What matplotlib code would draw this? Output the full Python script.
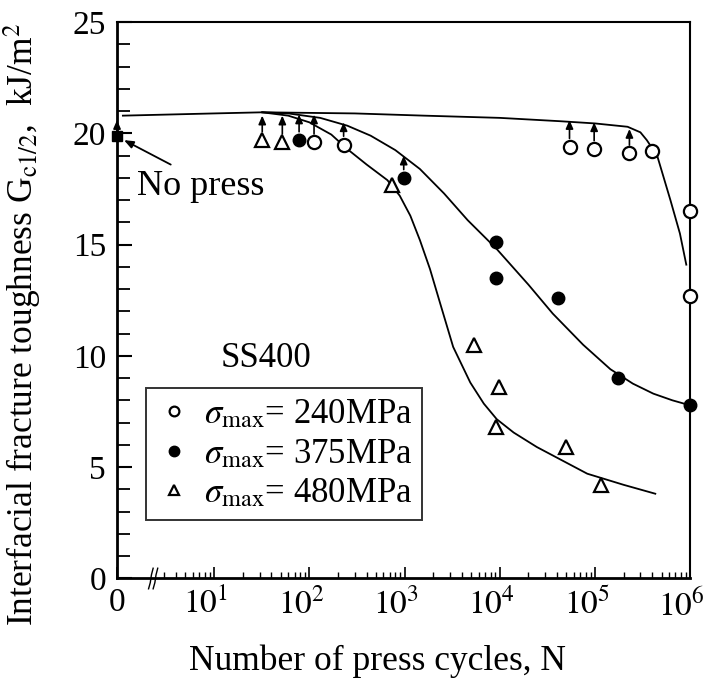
import numpy as np
import matplotlib
matplotlib.use("Agg")
import matplotlib.pyplot as plt
from matplotlib.lines import Line2D
import matplotlib.transforms as mtransforms

plt.rcParams['font.family'] = ['Liberation Serif', 'DejaVu Serif']
plt.rcParams['mathtext.fontset'] = 'stix'

# position of the "0" on the broken log axis
N_ZERO = 0.955

# sigma_max = 240 MPa (open circles)
n_240 = [112, 229, 5.4e4, 9.8e4, 2.3e5, 4.0e5, 1e6, 1e6]
g_240 = [19.6, 19.5, 19.4, 19.3, 19.1, 19.2, 16.5, 12.7]
# sigma_max = 375 MPa (filled circles)
n_375 = [78, 980, 9100, 9100, 4.1e4, 1.74e5, 1e6]
g_375 = [19.7, 18.0, 15.1, 13.5, 12.6, 9.0, 7.8]
# sigma_max = 480 MPa (open triangles)
n_480 = [32, 52, 740, 5400, 9800, 9100, 5.0e4, 1.17e5]
g_480 = [19.7, 19.6, 17.7, 10.5, 8.6, 6.8, 5.9, 4.2]

# no press
g_nopress = 19.9
tip_nopress = 20.6

# arrows (run-outs): x, start value, tip value
arr_n = [32, 52, 78, 112, 229, 980, 5.4e4, 9.8e4, 2.3e5]
arr_g = [19.7, 19.6, 19.7, 19.6, 19.5, 18.0, 19.4, 19.3, 19.1]
arr_tip = [20.8, 20.8, 20.85, 20.85, 20.5, 19.0, 20.6, 20.5, 20.2]

# fitted curves
cn_240 = [1.1, 10, 32, 300, 1600, 1e4, 4.3e4, 1e5, 2.2e5, 3.0e5, 3.5e5, 4.5e5, 6.2e5, 7.8e5, 9.1e5]
cg_240 = [20.8, 20.9, 20.95, 20.9, 20.8, 20.7, 20.55, 20.45, 20.3, 20.05, 19.7, 19.0, 17.0, 15.5, 14.1]
cn_375 = [32, 60, 130, 250, 440, 800, 1450, 2600, 4600, 9300, 2.0e4, 3.6e4, 7.5e4, 1.45e5, 2.5e5, 4.1e5, 6.5e5, 9.5e5]
cg_375 = [20.95, 20.9, 20.7, 20.35, 19.9, 19.25, 18.4, 17.3, 16.1, 14.8, 13.2, 11.9, 10.5, 9.4, 8.75, 8.3, 8.0, 7.8]
cn_480 = [32, 60, 100, 170, 250, 400, 660, 890, 1150, 1450, 1850, 2350, 3240, 4900, 6800, 9300, 1.4e4,
          2.45e4, 8.3e4, 2.0e5, 4.3e5]
cg_480 = [20.95, 20.8, 20.5, 19.95, 19.3, 18.6, 17.9, 17.2, 16.3, 15.2, 13.9, 12.4, 10.4, 8.8, 7.85, 7.15, 6.55,
          5.9, 4.7, 4.2, 3.8]

xtick_pos = [N_ZERO, 1e1, 1e2, 1e3, 1e4, 1e5, 1e6]
xtick_lab = ['0', '$10^{1}$', '$10^{2}$', '$10^{3}$', '$10^{4}$', '$10^{5}$', '$10^{6}$']

# "No press" label and pointer
nopress_text = (1.55, 17.6)
nopress_tail = (3.5, 18.6)
nopress_head = (1.13, 19.7)

fig = plt.figure(figsize=(7.05, 6.95), dpi=100)
ax = fig.add_axes([0.166, 0.168, 0.813, 0.8])
ax.set_xscale('log')
ax.set_xlim(N_ZERO, 1e6)
ax.set_ylim(0, 25)

lw = 1.3
ax.plot(cn_240, cg_240, color='k', lw=lw)
ax.plot(cn_375, cg_375, color='k', lw=lw)
ax.plot(cn_480, cg_480, color='k', lw=lw)

for n, g, t in zip(arr_n, arr_g, arr_tip):
    ax.annotate('', xy=(n, t), xytext=(n, g),
                arrowprops=dict(arrowstyle='-|>,head_length=0.5,head_width=0.22',
                                color='k', lw=1.2, shrinkA=6, shrinkB=0))
ax.annotate('', xy=(N_ZERO, tip_nopress), xytext=(N_ZERO, g_nopress),
            arrowprops=dict(arrowstyle='-|>,head_length=0.5,head_width=0.22',
                            color='k', lw=1.2, shrinkA=4, shrinkB=0))

ax.plot(n_240, g_240, 'o', ms=9.5, mfc='white', mec='k', mew=1.6, clip_on=False, zorder=5)
ax.plot(n_375, g_375, 'o', ms=9, mfc='k', mec='k', clip_on=False, zorder=5)
ax.plot(n_480, g_480, '^', ms=10, mfc='white', mec='k', mew=1.6, clip_on=False, zorder=5)
ax.plot([N_ZERO], [g_nopress], 's', ms=7, mfc='k', mec='k', clip_on=False, zorder=6)

ax.text(nopress_text[0], nopress_text[1], 'No press', fontsize=26, ha='left', va='center')
ax.annotate('', xy=nopress_head, xytext=nopress_tail,
            arrowprops=dict(arrowstyle='-|>,head_length=0.55,head_width=0.22',
                            color='k', lw=1.3, shrinkA=0, shrinkB=0))

ax.text(0.26, 0.396, 'SS400', transform=ax.transAxes, fontsize=25,
        ha='center', va='center')

handles = [
    Line2D([], [], ls='none', marker='o', ms=7, mfc='white', mec='k', mew=1.6),
    Line2D([], [], ls='none', marker='o', ms=7.5, mfc='k', mec='k'),
    Line2D([], [], ls='none', marker='^', ms=7, mfc='white', mec='k', mew=1.6),
]
labels = [r'$\sigma_{\rm max}$= 240MPa', r'$\sigma_{\rm max}$= 375MPa', r'$\sigma_{\rm max}$= 480MPa']
leg = ax.legend(handles, labels, loc='upper left', bbox_to_anchor=(0.051, 0.342),
                fontsize=25, frameon=True, fancybox=False, edgecolor='k',
                borderpad=0.3, labelspacing=0.18, handletextpad=0.35,
                handlelength=1.0, borderaxespad=0)
leg.get_frame().set_linewidth(1.4)

# ticks
ax.set_xticks(xtick_pos)
ax.set_xticklabels(xtick_lab)
minor = [m * 10 ** k for k in range(0, 6) for m in range(2, 10)
         if not (k == 0 and m < 3)]
ax.set_xticks(minor, minor=True)
ax.set_xticklabels([], minor=True)
ax.set_yticks(np.arange(0, 26, 5))
ax.set_yticks(np.arange(0, 26, 1), minor=True)
ax.tick_params(axis='both', which='both', direction='in', top=False, right=False)
ax.tick_params(axis='x', which='major', length=8, width=1.2, labelsize=24, pad=7)
ax.tick_params(axis='x', which='minor', length=4, width=1.0)
ax.tick_params(axis='y', which='major', length=11, width=1.5, labelsize=24, pad=8)
ax.tick_params(axis='y', which='minor', length=9, width=1.3)

shift = mtransforms.ScaledTranslation(-6 / 72, 0, fig.dpi_scale_trans)
for lab in ax.get_xticklabels()[1:]:
    lab.set_transform(lab.get_transform() + shift)

for side in ['left', 'bottom']:
    ax.spines[side].set_linewidth(2.0)
for side in ['top', 'right']:
    ax.spines[side].set_linewidth(1.5)

# axis break mark
for dx in [0.0, 0.008]:
    ax.plot([0.055 + dx, 0.058 + dx, 0.060 + dx, 0.063 + dx],
            [-0.019, -0.008, 0.006, 0.018],
            transform=ax.transAxes, color='k', lw=1.0, clip_on=False)

ax.set_xlabel('Number of press cycles, N', fontsize=25.5)
ax.xaxis.set_label_coords(0.454, -0.12)
ax.set_ylabel('Interfacial fracture toughness G$_{\\rm c1/2}$,  kJ/m$^{2}$', fontsize=25.5)
ax.yaxis.set_label_coords(-0.128, 0.457)

fig.savefig('out.png', dpi=100)
